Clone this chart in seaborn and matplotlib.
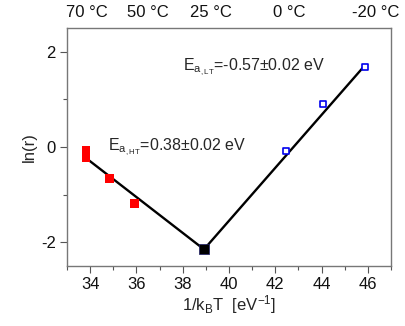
import matplotlib
matplotlib.use("Agg")
import matplotlib.pyplot as plt
import seaborn as sns
import pandas as pd
from matplotlib.ticker import MultipleLocator

# ---- data ----
ht_x = [33.82, 33.82, 34.83, 35.92]
ht_y = [-0.07, -0.23, -0.66, -1.19]
lt_x = [42.45, 44.08, 45.88]
lt_y = [-0.08, 0.90, 1.69]
cross_x = [38.92]
cross_y = [-2.15]
fit_x = [33.79, 38.92, 45.88]
fit_y = [-0.22, -2.15, 1.72]
temp_labels = ["70 °C", "50 °C", "25 °C", "0 °C", "-20 °C"]
temp_label_pos = [33.88, 36.49, 39.21, 42.62, 46.35]

sns.set_theme(style="white")
plt.rcParams['font.family'] = ['Liberation Sans', 'DejaVu Sans']
plt.rcParams['mathtext.fontset'] = 'custom'
plt.rcParams['mathtext.rm'] = 'Liberation Sans'
plt.rcParams['mathtext.it'] = 'Liberation Sans'
plt.rcParams['axes.unicode_minus'] = False

fig = plt.figure(figsize=(4.06, 3.26), dpi=100)
ax = fig.add_axes([0.165, 0.184, 0.798, 0.730])

fit = pd.DataFrame({"x": fit_x, "y": fit_y})
sns.lineplot(data=fit, x="x", y="y", ax=ax, color="black", lw=1.7, sort=False, zorder=2)

ht = pd.DataFrame({"x": ht_x, "y": ht_y})
sns.scatterplot(data=ht, x="x", y="y", ax=ax, marker="s", s=38, color="#ff0000",
                edgecolor="none", zorder=3)
lt = pd.DataFrame({"x": lt_x, "y": lt_y})
sns.scatterplot(data=lt, x="x", y="y", ax=ax, marker="s", s=22, facecolor="white",
                edgecolor="#0000ee", linewidth=1.2, zorder=3)
cr = pd.DataFrame({"x": cross_x, "y": cross_y})
sns.scatterplot(data=cr, x="x", y="y", ax=ax, marker="s", s=45, color="black",
                edgecolor="#222266", zorder=4)

ax.set_xlim(33, 47)
ax.set_ylim(-2.5, 2.5)
ax.xaxis.set_major_locator(MultipleLocator(2))
ax.xaxis.set_minor_locator(MultipleLocator(1))
ax.yaxis.set_major_locator(MultipleLocator(2))
ax.yaxis.set_minor_locator(MultipleLocator(1))
ax.tick_params(which="both", direction="out", color="#555555", labelsize=12,
               bottom=True, left=True, top=True, right=False,
               labelcolor="#111111", pad=3)
ax.tick_params(which="major", length=5, width=0.8)
ax.tick_params(which="minor", length=3, width=0.8)
for s in ax.spines.values():
    s.set_color("#777777")
    s.set_linewidth(1.0)

ax.set_xlabel(r"1/k$_\mathregular{B}$T  [eV$^\mathregular{-1}$]", fontsize=12, labelpad=1)
ax.set_ylabel("ln(r)", fontsize=12, labelpad=3)

ax2 = ax.twiny()
ax2.set_xlim(ax.get_xlim())
ax2.set_xticks(temp_label_pos)
ax2.set_xticklabels(temp_labels)
ax2.tick_params(axis="x", length=0, labelsize=12, pad=6, labelcolor="#111111")
ax2.grid(False)
for s in ax2.spines.values():
    s.set_visible(False)

ax.text(182.7 / 406, 1 - 70.5 / 326, r"E$_{\mathregular{a}_{\mathregular{,LT}}}$=-0.57±0.02 eV",
        transform=fig.transFigure, fontsize=11.5, ha="left", va="baseline")
ax.text(107.7 / 406, 1 - 150 / 326, r"E$_{\mathregular{a}_{\mathregular{,HT}}}$=0.38±0.02 eV",
        transform=fig.transFigure, fontsize=11.5, ha="left", va="baseline")

fig.savefig("out.png", dpi=100)
